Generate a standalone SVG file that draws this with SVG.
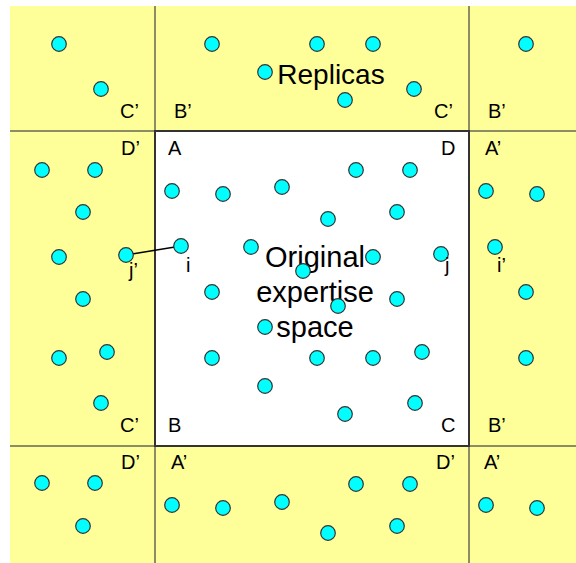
<svg xmlns="http://www.w3.org/2000/svg" width="576" height="563" viewBox="0 0 576 563">
<style>
.pt{fill:#00FFFF;stroke:#333333;stroke-width:1.2}
.lb{font-family:"Liberation Sans",Arial,sans-serif;font-size:20px;fill:#000}
.big{font-family:"Liberation Sans",Arial,sans-serif;font-size:29px;fill:#000;text-anchor:middle}
.grid{stroke:#666655;stroke-width:1.5;fill:none}
</style>
<g id="background">
<rect x="10" y="6" width="566" height="557" fill="#FFFF99"/>
<rect x="155" y="131" width="314" height="315" fill="#FFFFFF"/>
<line class="grid" x1="155" y1="6" x2="155" y2="563"/>
<line class="grid" x1="469" y1="6" x2="469" y2="563"/>
<line class="grid" x1="10" y1="131" x2="576" y2="131"/>
<line class="grid" x1="10" y1="446" x2="576" y2="446"/>
<rect x="155" y="131" width="314" height="315" fill="none" stroke="#333333" stroke-width="2"/>
</g>
<g id="connectors">
<line x1="126" y1="255" x2="181" y2="246" stroke="#000" stroke-width="1.5"/>
</g>
<g id="points">
<circle class="pt" cx="59" cy="44" r="7.3"/>
<circle class="pt" cx="101" cy="89" r="7.3"/>
<circle class="pt" cx="212" cy="44" r="7.3"/>
<circle class="pt" cx="317" cy="44" r="7.3"/>
<circle class="pt" cx="373" cy="44" r="7.3"/>
<circle class="pt" cx="265" cy="72" r="7.3"/>
<circle class="pt" cx="414" cy="89" r="7.3"/>
<circle class="pt" cx="345" cy="100" r="7.3"/>
<circle class="pt" cx="526" cy="44" r="7.3"/>
<circle class="pt" cx="42" cy="170" r="7.3"/>
<circle class="pt" cx="95" cy="170" r="7.3"/>
<circle class="pt" cx="83" cy="212" r="7.3"/>
<circle class="pt" cx="59" cy="257" r="7.3"/>
<circle class="pt" cx="83" cy="299" r="7.3"/>
<circle class="pt" cx="59" cy="358" r="7.3"/>
<circle class="pt" cx="107" cy="352" r="7.3"/>
<circle class="pt" cx="101" cy="403" r="7.3"/>
<circle class="pt" cx="42" cy="483" r="7.3"/>
<circle class="pt" cx="95" cy="483" r="7.3"/>
<circle class="pt" cx="83" cy="526" r="7.3"/>
<circle class="pt" cx="172" cy="191" r="7.3"/>
<circle class="pt" cx="223" cy="194" r="7.3"/>
<circle class="pt" cx="282" cy="187" r="7.3"/>
<circle class="pt" cx="356" cy="170" r="7.3"/>
<circle class="pt" cx="410" cy="170" r="7.3"/>
<circle class="pt" cx="328" cy="219" r="7.3"/>
<circle class="pt" cx="397" cy="212" r="7.3"/>
<circle class="pt" cx="251" cy="247" r="7.3"/>
<circle class="pt" cx="373" cy="257" r="7.3"/>
<circle class="pt" cx="212" cy="292" r="7.3"/>
<circle class="pt" cx="397" cy="299" r="7.3"/>
<circle class="pt" cx="212" cy="358" r="7.3"/>
<circle class="pt" cx="317" cy="358" r="7.3"/>
<circle class="pt" cx="373" cy="358" r="7.3"/>
<circle class="pt" cx="422" cy="352" r="7.3"/>
<circle class="pt" cx="265" cy="386" r="7.3"/>
<circle class="pt" cx="345" cy="414" r="7.3"/>
<circle class="pt" cx="415" cy="403" r="7.3"/>
<circle class="pt" cx="172" cy="505" r="7.3"/>
<circle class="pt" cx="223" cy="508" r="7.3"/>
<circle class="pt" cx="282" cy="502" r="7.3"/>
<circle class="pt" cx="356" cy="484" r="7.3"/>
<circle class="pt" cx="410" cy="484" r="7.3"/>
<circle class="pt" cx="328" cy="533" r="7.3"/>
<circle class="pt" cx="397" cy="526" r="7.3"/>
<circle class="pt" cx="486" cy="191" r="7.3"/>
<circle class="pt" cx="537" cy="194" r="7.3"/>
<circle class="pt" cx="495" cy="247" r="7.3"/>
<circle class="pt" cx="526" cy="292" r="7.3"/>
<circle class="pt" cx="526" cy="358" r="7.3"/>
<circle class="pt" cx="486" cy="505" r="7.3"/>
<circle class="pt" cx="537" cy="508" r="7.3"/>
</g>
<g id="node-j-prime"><circle class="pt" cx="126" cy="255" r="7.3"/><text class="lb" x="129" y="277">j’</text></g>
<g id="node-i"><circle class="pt" cx="181" cy="246" r="7.3"/><text class="lb" x="186" y="272">i</text></g>
<g id="node-j"><circle class="pt" cx="441" cy="254" r="7.3"/><text class="lb" x="445" y="272">j</text></g>
<g id="node-i-prime"><text class="lb" x="497" y="272">i’</text></g>
<g id="label-original">
<text class="big" x="315" y="267">Original</text>
<text class="big" x="315" y="302">expertise</text>
<text class="big" x="315" y="337">space</text>
</g>
<circle class="pt" cx="303" cy="271" r="7.3"/>
<circle class="pt" cx="338" cy="306" r="7.3"/>
<circle class="pt" cx="265" cy="327" r="7.3"/>
<g id="label-replicas"><text class="big" x="331" y="84" style="font-size:28px">Replicas</text></g>
<g id="corner-labels">
<text class="lb" x="120" y="118">C’</text>
<text class="lb" x="174" y="118">B’</text>
<text class="lb" x="434" y="118">C’</text>
<text class="lb" x="488" y="118">B’</text>
<text class="lb" x="121" y="155">D’</text>
<text class="lb" x="168" y="155">A</text>
<text class="lb" x="441" y="155">D</text>
<text class="lb" x="485" y="155">A’</text>
<text class="lb" x="120" y="432">C’</text>
<text class="lb" x="168" y="432">B</text>
<text class="lb" x="441" y="432">C</text>
<text class="lb" x="488" y="432">B’</text>
<text class="lb" x="121" y="469">D’</text>
<text class="lb" x="171" y="469">A’</text>
<text class="lb" x="436" y="469">D’</text>
<text class="lb" x="484" y="469">A’</text>
</g>
</svg>
